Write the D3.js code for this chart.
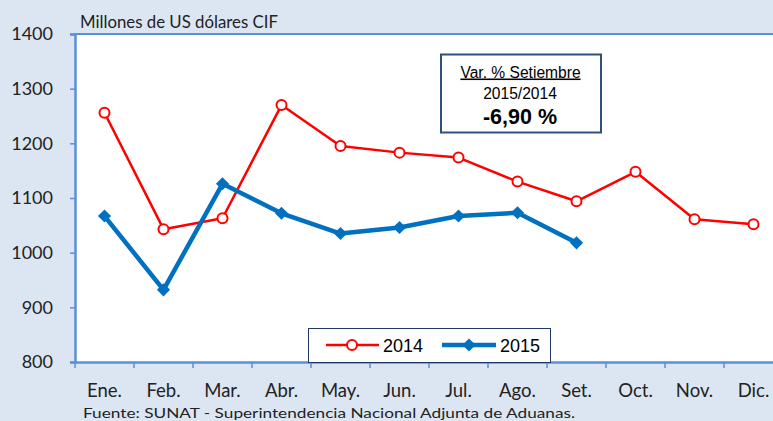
<!DOCTYPE html>
<html>
<head>
<meta charset="utf-8">
<script src="https://cdn.jsdelivr.net/npm/d3@7"></script>
<style>
  html, body { margin: 0; padding: 0; background: #dce6f2; overflow: hidden; }
  svg { display: block; }
</style>
</head>
<body>
<svg id="chart" width="773" height="421"></svg>
<script>
// Monthly imports, millions of US dollars CIF
const months = ["Ene.", "Feb.", "Mar.", "Abr.", "May.", "Jun.", "Jul.", "Ago.", "Set.", "Oct.", "Nov.", "Dic."];
const values2014 = [1256, 1043, 1063, 1270, 1195, 1183, 1174, 1130, 1094, 1148, 1061, 1052];
const values2015 = [1067, 932, 1126, 1072, 1035, 1046, 1067, 1073, 1018];
const yTicks = [800, 900, 1000, 1100, 1200, 1300, 1400];
const seriesNames = ["2014", "2015"];

(function draw() {
const svg = d3.select("#chart");
const W = 773, H = 421;
const plotLeft = 75, plotTop = 34, plotBottom = 362;
const band = 59;

svg.append("rect").attr("width", W).attr("height", H).attr("fill", "#dce6f2");

const x = d3.scaleBand().domain(months).range([plotLeft, plotLeft + band * months.length]);
const y = d3.scaleLinear().domain([800, 1400]).range([plotBottom, plotTop]);

// plot area
svg.append("rect")
  .attr("x", plotLeft).attr("y", plotTop)
  .attr("width", W - plotLeft).attr("height", plotBottom - plotTop)
  .attr("fill", "#ffffff");
const axisColor = "#5b8fd8";
svg.append("line")
  .attr("x1", plotLeft).attr("x2", W).attr("y1", plotTop).attr("y2", plotTop)
  .attr("stroke", axisColor).attr("stroke-width", 2);

const labelFont = "Lato, 'Open Sans', sans-serif";
const textColor = "#222222";

// y axis
const yAxis = svg.append("g")
  .attr("transform", `translate(${plotLeft},0)`)
  .call(d3.axisLeft(y).tickValues(yTicks).tickSize(5).tickPadding(17).tickFormat(d3.format("d")));
yAxis.select(".domain").attr("stroke", axisColor).attr("stroke-width", 2.5);
yAxis.selectAll(".tick line").attr("stroke", axisColor).attr("stroke-width", 1.5);
yAxis.selectAll(".tick text")
  .attr("fill", textColor).attr("font-size", 18).attr("font-family", labelFont);

// x axis
const xAxis = svg.append("g")
  .attr("transform", `translate(0,${plotBottom})`)
  .call(d3.axisBottom(x).tickSize(0).tickPadding(0));
xAxis.select(".domain").attr("stroke", axisColor).attr("stroke-width", 2.5);
xAxis.selectAll(".tick text")
  .attr("fill", textColor).attr("font-size", 18.5).attr("font-family", labelFont)
  .attr("dy", null).attr("y", 35);
// category separators
xAxis.selectAll(".sep")
  .data(d3.range(months.length + 1))
  .join("line")
  .attr("class", "sep")
  .attr("x1", i => plotLeft + i * band).attr("x2", i => plotLeft + i * band)
  .attr("y1", 0).attr("y2", 6)
  .attr("stroke", axisColor).attr("stroke-width", 1.5);

// unit label
svg.append("text")
  .attr("x", 80).attr("y", 27.5)
  .attr("font-family", labelFont).attr("font-size", 16.5).attr("fill", textColor)
  .attr("textLength", 198).attr("lengthAdjust", "spacingAndGlyphs")
  .text("Millones de US dólares CIF");

// source
svg.append("text")
  .attr("x", 83).attr("y", 418)
  .attr("font-family", labelFont).attr("font-size", 14).attr("fill", textColor)
  .attr("textLength", 492).attr("lengthAdjust", "spacingAndGlyphs")
  .text("Fuente: SUNAT - Superintendencia Nacional Adjunta de Aduanas.");

const cx = (d, i) => x(months[i]) + x.bandwidth() / 2;
const line = d3.line().x((d, i) => cx(d, i)).y(d => y(d));

// 2014 series
svg.append("path").datum(values2014)
  .attr("d", line).attr("fill", "none")
  .attr("stroke", "#ff0000").attr("stroke-width", 2.5).attr("stroke-linejoin", "round");
svg.selectAll(".p2014").data(values2014).join("circle")
  .attr("class", "p2014")
  .attr("cx", cx).attr("cy", d => y(d)).attr("r", 5)
  .attr("fill", "#ffffff").attr("stroke", "#ff0000").attr("stroke-width", 2);

// 2015 series
svg.append("path").datum(values2015)
  .attr("d", line).attr("fill", "none")
  .attr("stroke", "#0070c0").attr("stroke-width", 4.5).attr("stroke-linejoin", "round");
const diamond = d3.symbol().type(d3.symbolDiamond2).size(110);
svg.selectAll(".p2015").data(values2015).join("path")
  .attr("class", "p2015")
  .attr("transform", (d, i) => `translate(${cx(d, i)},${y(d)})`)
  .attr("d", diamond).attr("fill", "#0070c0");

const arial = "'Liberation Sans', Arial, sans-serif";

// legend
const lg = svg.append("g");
lg.append("rect")
  .attr("x", 308.5).attr("y", 328.5).attr("width", 242).attr("height", 34)
  .attr("fill", "#ffffff").attr("stroke", "#1f3864").attr("stroke-width", 1);
lg.append("line").attr("x1", 326).attr("x2", 379).attr("y1", 345).attr("y2", 345)
  .attr("stroke", "#ff0000").attr("stroke-width", 2.5);
lg.append("circle").attr("cx", 352).attr("cy", 345).attr("r", 5)
  .attr("fill", "#ffffff").attr("stroke", "#ff0000").attr("stroke-width", 2);
lg.append("text").attr("x", 383).attr("y", 351.5)
  .attr("font-family", arial).attr("font-size", 18).attr("fill", "#000")
  .text(seriesNames[0]);
lg.append("line").attr("x1", 442).attr("x2", 496).attr("y1", 345).attr("y2", 345)
  .attr("stroke", "#0070c0").attr("stroke-width", 4.5);
lg.append("path").attr("transform", "translate(469,345)").attr("d", diamond).attr("fill", "#0070c0");
lg.append("text").attr("x", 500).attr("y", 351.5)
  .attr("font-family", arial).attr("font-size", 18).attr("fill", "#000")
  .text(seriesNames[1]);

// variation note
const nb = svg.append("g");
nb.append("rect")
  .attr("x", 441).attr("y", 54.5).attr("width", 160).attr("height", 78)
  .attr("fill", "#ffffff").attr("stroke", "#2f4f7f").attr("stroke-width", 2);
nb.append("text").attr("x", 520.5).attr("y", 77.5).attr("text-anchor", "middle")
  .attr("font-family", arial).attr("font-size", 15.6)
  .attr("text-decoration", "underline").attr("fill", "#000")
  .text("Var. % Setiembre");
nb.append("text").attr("x", 520).attr("y", 99).attr("text-anchor", "middle")
  .attr("font-family", arial).attr("font-size", 15.6).attr("fill", "#000")
  .text("2015/2014");
nb.append("text").attr("x", 520).attr("y", 124).attr("text-anchor", "middle")
  .attr("font-family", arial).attr("font-size", 21.5)
  .attr("font-weight", "bold").attr("fill", "#000")
  .text("-6,90 %");
})();
</script>
</body>
</html>
